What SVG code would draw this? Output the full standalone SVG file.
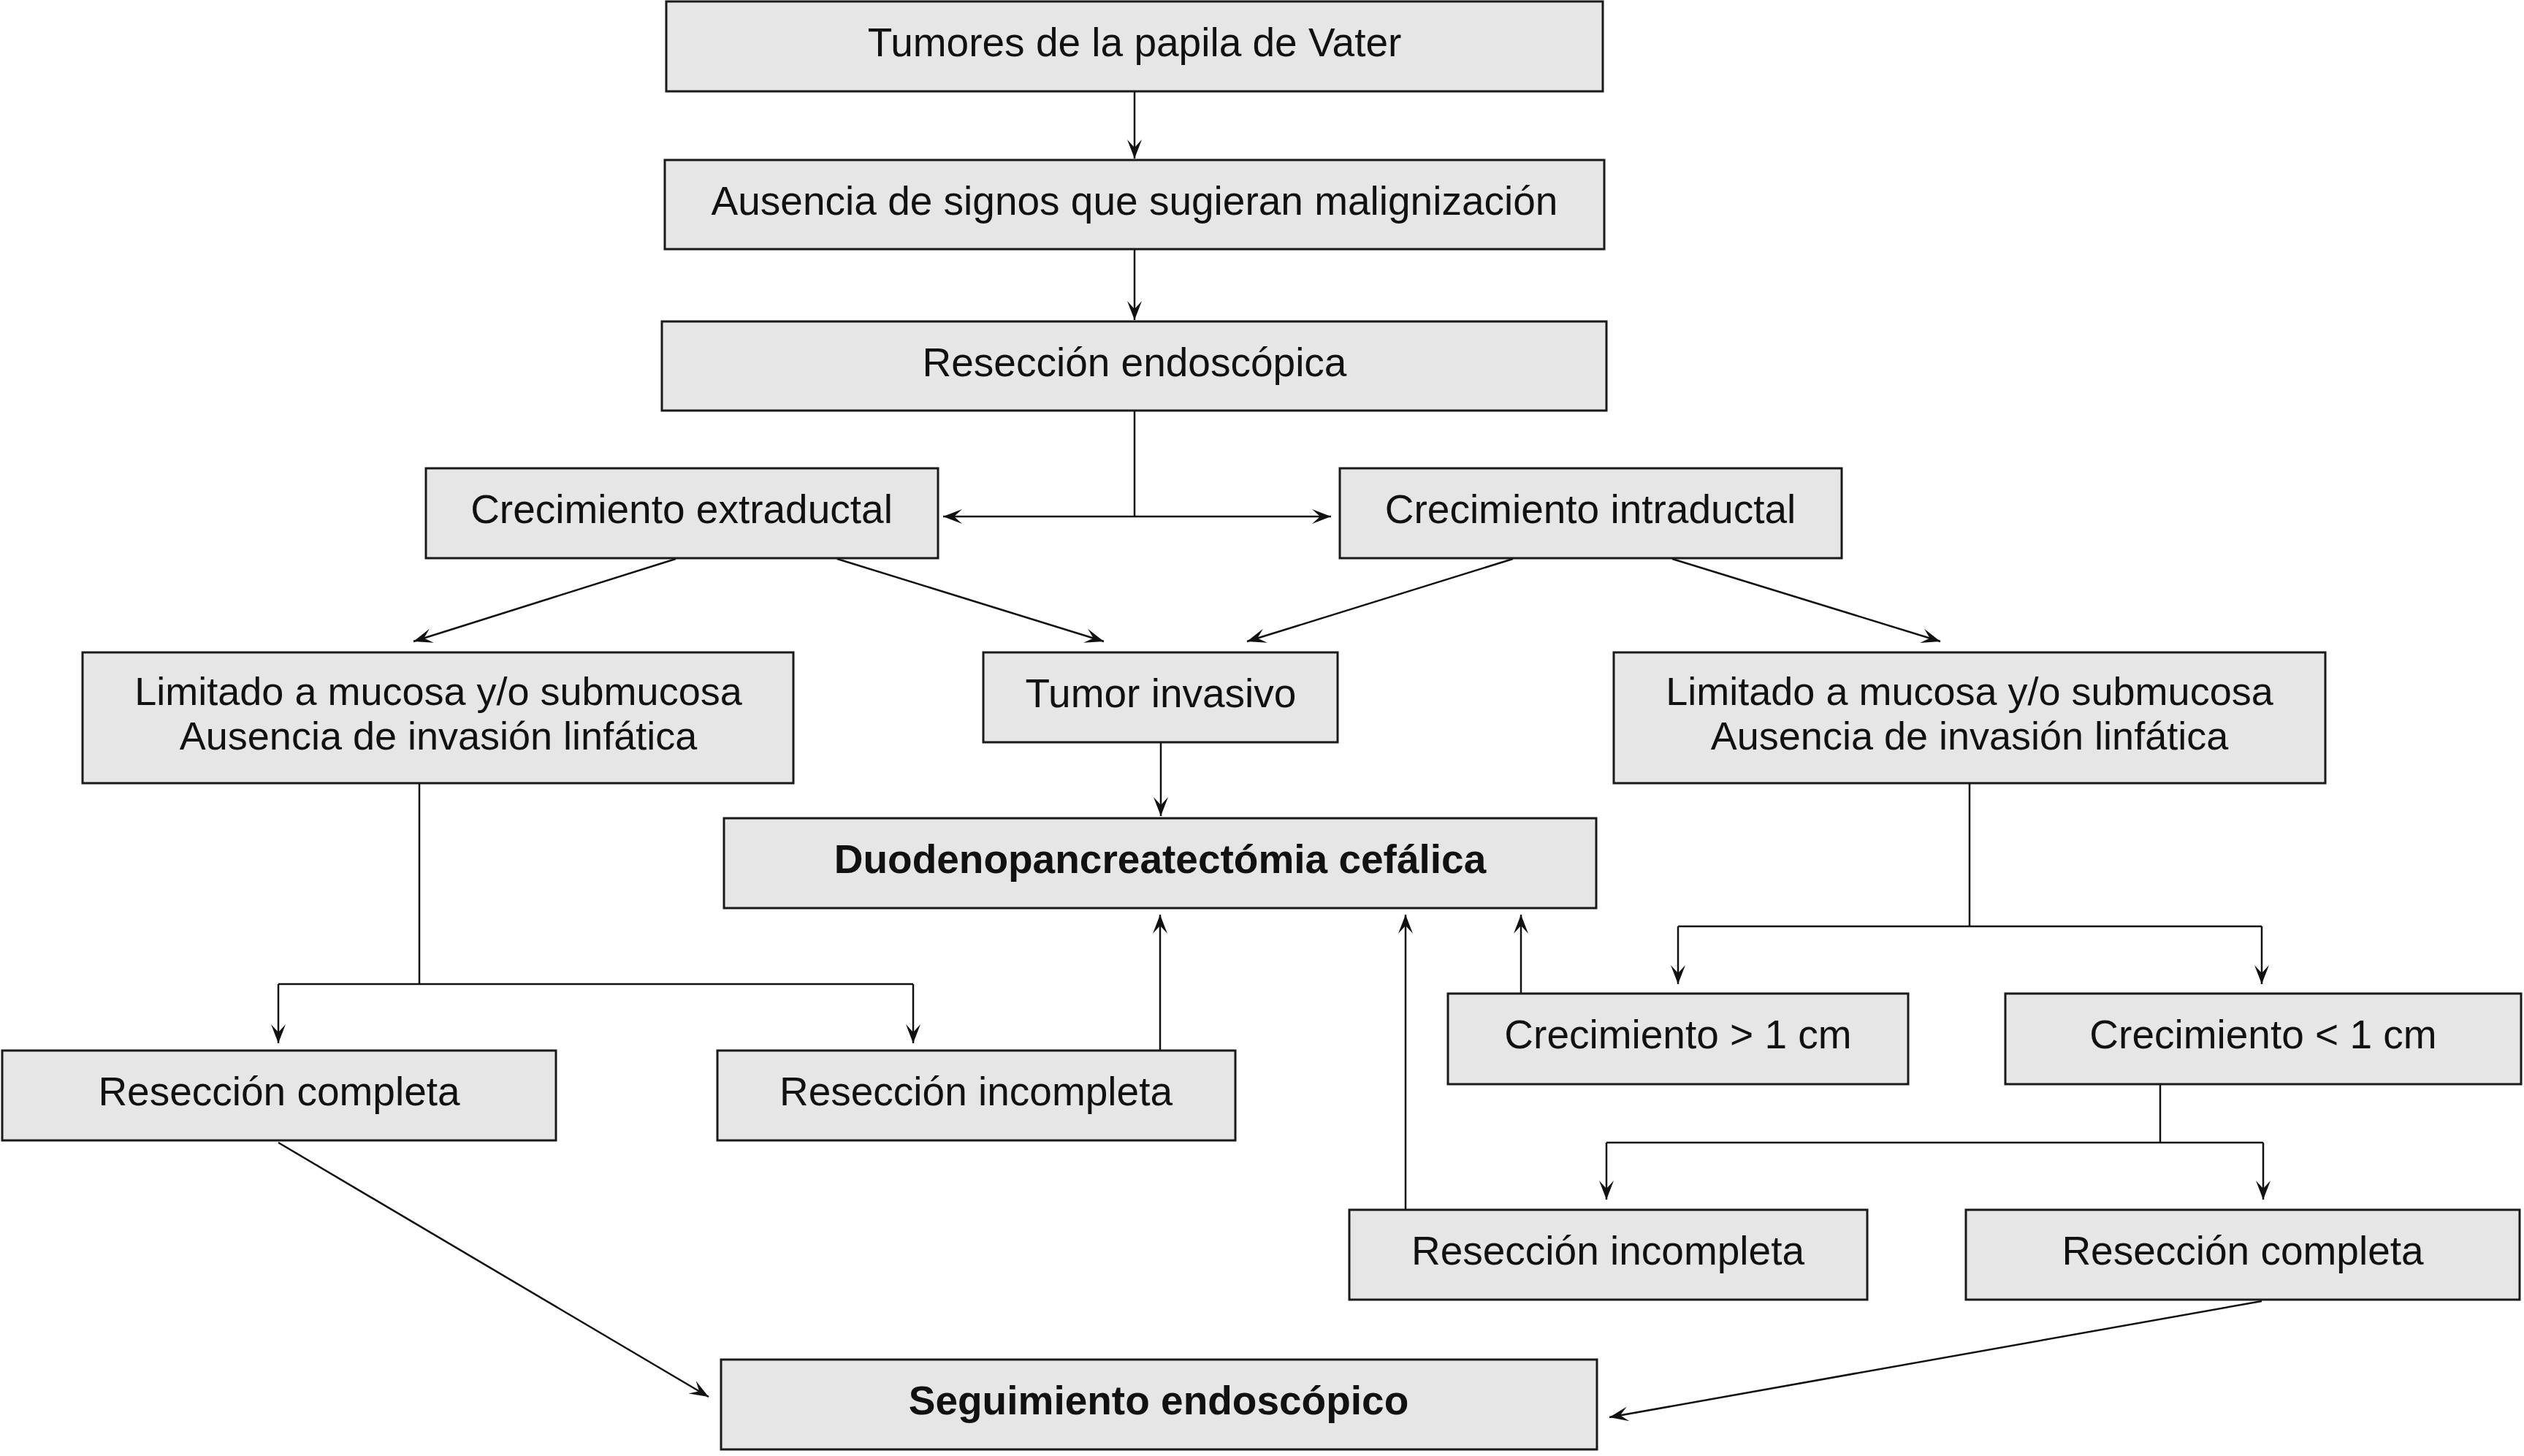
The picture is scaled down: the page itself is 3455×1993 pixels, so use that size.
<svg xmlns="http://www.w3.org/2000/svg" width="3455" height="1993" viewBox="0 0 3455 1993">
<style>
.box{fill:#e6e6e6;stroke:#1a1a1a;stroke-width:3}
.t{font-family:"Liberation Sans",Arial,Helvetica,sans-serif;font-size:55px;text-anchor:middle;fill:#111}
.t2{font-size:54px}
.b{font-weight:bold}
.c{stroke:#111;stroke-width:2.5;fill:none}
.m{marker-end:url(#ah)}
</style>
<defs>
<marker id="ah" markerUnits="userSpaceOnUse" markerWidth="30" markerHeight="24" viewBox="-28 -12 30 24" refX="0" refY="0" orient="auto">
<path d="M0,0 L-26,-10 L-15,0 L-26,10 Z" fill="#111"/>
</marker>
</defs>
<rect width="3455" height="1993" fill="#fff"/>
<g id="connectors">
<path class="c m" d="M1553,125 V217"/>
<path class="c m" d="M1553,341 V438"/>
<path class="c" d="M1553,562 V707"/>
<path class="c m" d="M1553,707 H1291"/>
<path class="c m" d="M1553,707 H1822"/>
<path class="c m" d="M925,765 L566,878"/>
<path class="c m" d="M1146,765 L1511,878"/>
<path class="c m" d="M2071,765 L1707,878"/>
<path class="c m" d="M2289,765 L2656,878"/>
<path class="c m" d="M1589,1016 V1117"/>
<path class="c" d="M574,1072 V1347 M381,1347 H1250"/>
<path class="c m" d="M381,1347 V1428"/>
<path class="c m" d="M1250,1347 V1428"/>
<path class="c m" d="M1588,1438 V1252"/>
<path class="c" d="M2696,1072 V1268 M2297,1268 H3096"/>
<path class="c m" d="M2297,1268 V1347"/>
<path class="c m" d="M3096,1268 V1347"/>
<path class="c m" d="M2082,1360 V1252"/>
<path class="c" d="M2957,1484 V1564 M2199,1564 H3098"/>
<path class="c m" d="M2199,1564 V1642"/>
<path class="c m" d="M3098,1564 V1642"/>
<path class="c m" d="M1924,1656 V1252"/>
<path class="c m" d="M381,1564 L970,1912"/>
<path class="c m" d="M3096,1781 L2203,1940"/>
</g>
<g id="n1"><rect class="box" x="912" y="2" width="1282" height="123"/><text class="t" x="1553" y="77">Tumores de la papila de Vater</text></g>
<g id="n2"><rect class="box" x="910" y="219" width="1286" height="122"/><text class="t" x="1553" y="294">Ausencia de signos que sugieran malignización</text></g>
<g id="n3"><rect class="box" x="906" y="440" width="1293" height="122"/><text class="t" x="1553" y="515">Resección endoscópica</text></g>
<g id="n4"><rect class="box" x="583" y="641" width="701" height="123"/><text class="t" x="933" y="716">Crecimiento extraductal</text></g>
<g id="n5"><rect class="box" x="1834" y="641" width="687" height="123"/><text class="t" x="2177" y="716">Crecimiento intraductal</text></g>
<g id="n6"><rect class="box" x="113" y="893" width="973" height="179"/><text class="t t2" x="600" y="965">Limitado a mucosa y/o submucosa</text><text class="t t2" x="600" y="1026">Ausencia de invasión linfática</text></g>
<g id="n7"><rect class="box" x="1346" y="893" width="485" height="123"/><text class="t" x="1589" y="968">Tumor invasivo</text></g>
<g id="n8"><rect class="box" x="2209" y="893" width="974" height="179"/><text class="t t2" x="2696" y="965">Limitado a mucosa y/o submucosa</text><text class="t t2" x="2696" y="1026">Ausencia de invasión linfática</text></g>
<g id="n9"><rect class="box" x="991" y="1120" width="1194" height="123"/><text class="t b" x="1588" y="1195">Duodenopancreatectómia cefálica</text></g>
<g id="n10"><rect class="box" x="1982" y="1360" width="630" height="124"/><text class="t" x="2297" y="1435">Crecimiento &gt; 1 cm</text></g>
<g id="n11"><rect class="box" x="2745" y="1360" width="706" height="124"/><text class="t" x="3098" y="1435">Crecimiento &lt; 1 cm</text></g>
<g id="n12"><rect class="box" x="3" y="1438" width="758" height="123"/><text class="t" x="382" y="1513">Resección completa</text></g>
<g id="n13"><rect class="box" x="982" y="1438" width="709" height="123"/><text class="t" x="1336" y="1513">Resección incompleta</text></g>
<g id="n14"><rect class="box" x="1847" y="1656" width="709" height="123"/><text class="t" x="2201" y="1731">Resección incompleta</text></g>
<g id="n15"><rect class="box" x="2691" y="1656" width="758" height="123"/><text class="t" x="3070" y="1731">Resección completa</text></g>
<g id="n16"><rect class="box" x="987" y="1861" width="1199" height="123"/><text class="t b" x="1586" y="1936">Seguimiento endoscópico</text></g>
</svg>
